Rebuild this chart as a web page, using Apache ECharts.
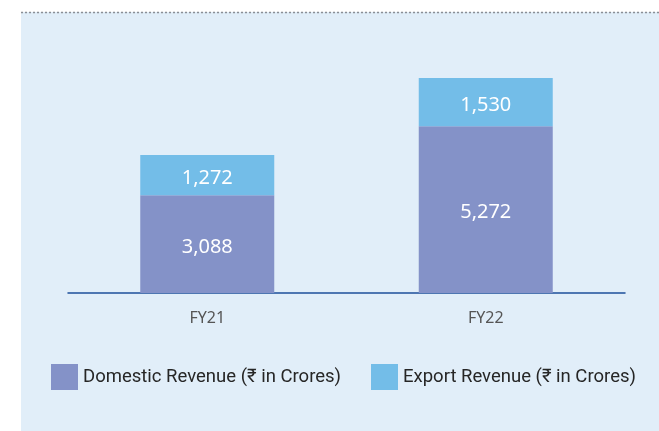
<!DOCTYPE html>
<html><head><meta charset="utf-8">
<script src="https://cdn.jsdelivr.net/npm/echarts@6/dist/echarts.min.js"></script>
<style>html,body{margin:0;padding:0;background:#fff}#c{width:659px;height:431px}</style>
</head><body><div id="c"></div>
<script>
const categories = ['FY21', 'FY22'];
const domestic = [3088, 5272];
const exportRev = [1272, 1530];
const seriesNames = ['Domestic Revenue (₹ in Crores)', 'Export Revenue (₹ in Crores)'];

const chart = echarts.init(document.getElementById('c'));
const fmt = v => v.toLocaleString('en-US');
const labelStyle = {show: true, position: 'inside', offset: [0, 3], color: '#ffffff', fontSize: 20, fontFamily: 'Noto Sans', formatter: p => fmt(p.value)};
chart.setOption({
  animation: false,
  graphic: [
    {type: 'rect', z: -10, shape: {x: 21, y: 12, width: 638, height: 419}, style: {fill: '#e1eef9'}},
    {type: 'line', z: 10, shape: {x1: 21, y1: 12.5, x2: 659, y2: 12.5}, style: {stroke: '#8a8f96', lineWidth: 1.5, lineDash: [2, 2]}}
  ],
  grid: {left: 68, right: 34, top: 40, bottom: 138},
  legend: {
    left: 51, top: 364, padding: 0, itemWidth: 27, itemHeight: 26, itemGap: 30,
    icon: 'rect',
    textStyle: {fontSize: 18.5, color: '#262626', fontFamily: 'Roboto', padding: [0, 0, 0, 0]},
    data: seriesNames
  },
  xAxis: {
    type: 'category', data: categories,
    axisLine: {lineStyle: {color: '#1d4f9a', width: 1.5}},
    axisTick: {show: false},
    axisLabel: {color: '#555', fontSize: 16, margin: 17, fontFamily: 'Noto Sans'}
  },
  yAxis: {type: 'value', min: 0, max: 8000, show: false, splitLine: {show: false}},
  series: [
    {name: seriesNames[0], type: 'bar', stack: 'a', data: domestic, barWidth: 134, itemStyle: {color: '#8492c8'}, label: labelStyle},
    {name: seriesNames[1], type: 'bar', stack: 'a', data: exportRev, barWidth: 134, itemStyle: {color: '#73bde8'}, label: labelStyle}
  ]
});
</script></body></html>
